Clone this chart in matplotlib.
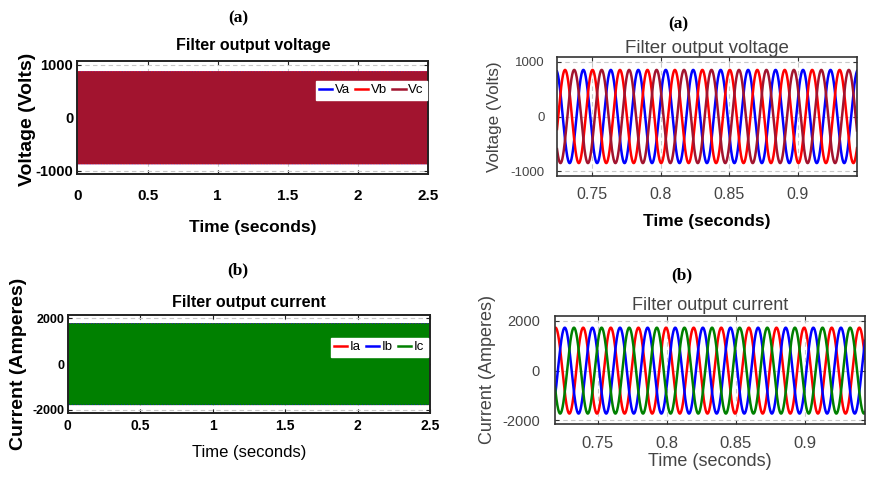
import numpy as np
import matplotlib
matplotlib.use("Agg")
import matplotlib.pyplot as plt

# waveform parameters
freq = 50.0                      # Hz
v_amp = 850.0                    # volts, peak
i_amp = 1730.0                   # amperes, peak
v_peak_a = 0.7437                # time of a Va peak (s)
i_peak_a = 0.7394                # time of an Ia peak (s)
phase_shift = [0.0, 1 / 3, 2 / 3]  # fraction of a period each phase lags phase a

v_names = ["Va", "Vb", "Vc"]
v_colors = ["#0000ff", "#ff0000", "#a2142f"]
i_names = ["Ia", "Ib", "Ic"]
i_colors = ["#ff0000", "#0000ff", "#008000"]

full_span = [0.0, 2.5]
v_zoom = [0.7245, 0.943]
i_zoom = [0.719, 0.9435]

v_ticks = [-1000, 0, 1000]
i_ticks = [-2000, 0, 2000]
full_xticks = [0, 0.5, 1, 1.5, 2, 2.5]
full_xlabels = ["0", "0.5", "1", "1.5", "2", "2.5"]
zoom_xticks = [0.75, 0.8, 0.85, 0.9]
zoom_xlabels = ["0.75", "0.8", "0.85", "0.9"]

plt.rcParams["axes.unicode_minus"] = False

W, H = 874, 478
SANS = ["Liberation Sans", "DejaVu Sans"]
SERIF = ["Liberation Serif", "DejaVu Serif"]
GREY = "#444444"


def rect(x0, y0, x1, y1):
    return [x0 / W, 1 - y1 / H, (x1 - x0) / W, (y1 - y0) / H]


def phase_wave(t, amp, t_peak, k):
    return amp * np.cos(2 * np.pi * freq * (t - t_peak) - 2 * np.pi * phase_shift[k])


def style_axes(ax, lw, color):
    ax.tick_params(direction="in", top=True, right=True, length=3, width=0.8,
                   color=color)
    for s in ax.spines.values():
        s.set_linewidth(lw)
        s.set_color(color)
    ax.grid(True, color="#c8c8c8", linestyle=(0, (4, 3)), linewidth=0.8)
    ax.set_axisbelow(True)


def set_ticklabels(labels, size, weight="normal", color="black"):
    for lab in labels:
        lab.set_fontfamily(SANS)
        lab.set_fontweight(weight)
        lab.set_fontsize(size)
        lab.set_color(color)


def add_legend(ax, anchor):
    leg = ax.legend(loc="upper right", bbox_to_anchor=anchor, ncol=3, frameon=True,
                    prop={"family": SANS, "size": 9.5}, handlelength=1.0,
                    handletextpad=0.2, columnspacing=0.4, borderpad=0.25,
                    fancybox=False, framealpha=1, borderaxespad=0.1)
    leg.get_frame().set_edgecolor("white")
    for h in leg.get_lines():
        h.set_linewidth(1.8)


fig = plt.figure(figsize=(W / 100, H / 100), dpi=100)

t_full = np.linspace(full_span[0], full_span[1], 40001)

# ---- (a) left: full voltage
ax = fig.add_axes(rect(77.3, 61, 428.3, 174))
for k in range(3):
    ax.plot(t_full, phase_wave(t_full, v_amp, v_peak_a, k), color=v_colors[k],
            lw=2.2, label=v_names[k])
ax.set_xlim(full_span)
ax.set_ylim(-1060, 1070)
ax.set_xticks(full_xticks)
ax.set_xticklabels(full_xlabels)
ax.set_yticks(v_ticks)
style_axes(ax, 1.4, "#222222")
ax.tick_params(axis="x", pad=11)
ax.tick_params(axis="y", pad=3)
set_ticklabels(ax.get_xticklabels(), 11, "bold")
set_ticklabels(ax.get_yticklabels(), 10.5, "bold")
ax.set_title("Filter output voltage", family=SANS, weight="bold", fontsize=11.5, pad=8)
ax.set_xlabel("Time (seconds)", family=SANS, weight="bold", fontsize=12.5, labelpad=12)
ax.set_ylabel("Voltage (Volts)", family=SANS, weight="bold", fontsize=14)
ax.yaxis.set_label_coords((27 - 77.3) / 351, 0.48)
ax.yaxis.label.set_va("center")
add_legend(ax, (1.0, 0.835))

# ---- (a) right: zoomed voltage
t_v = np.linspace(v_zoom[0], v_zoom[1], 4000)
ax = fig.add_axes(rect(557, 57.3, 857, 175.7))
for k in range(3):
    ax.plot(t_v, phase_wave(t_v, v_amp, v_peak_a, k), color=v_colors[k], lw=1.8)
ax.set_xlim(v_zoom)
ax.set_ylim(-1080, 1080)
ax.set_xticks(zoom_xticks)
ax.set_xticklabels(zoom_xlabels)
ax.set_yticks(v_ticks)
style_axes(ax, 1.2, "#333333")
ax.tick_params(axis="x", pad=8)
ax.tick_params(axis="y", pad=9)
set_ticklabels(ax.get_xticklabels(), 11.5, color=GREY)
set_ticklabels(ax.get_yticklabels(), 9.5, color=GREY)
ax.set_title("Filter output voltage", family=SANS, fontsize=13.5, color=GREY, pad=3)
ax.set_xlabel("Time (seconds)", family=SANS, weight="bold", fontsize=12.5, labelpad=9)
ax.set_ylabel("Voltage (Volts)", family=SANS, fontsize=12.3, color=GREY)
ax.yaxis.set_label_coords((495 - 557) / 300, 0.5)
ax.yaxis.label.set_va("center")

# ---- (b) left: full current
ax = fig.add_axes(rect(67.5, 315, 430, 413.3))
for k in range(3):
    ax.plot(t_full, phase_wave(t_full, i_amp, i_peak_a, k), color=i_colors[k],
            lw=2.2, label=i_names[k])
ax.set_xlim(full_span)
ax.set_ylim(-2150, 2150)
ax.set_xticks(full_xticks)
ax.set_xticklabels(full_xlabels)
ax.set_yticks(i_ticks)
style_axes(ax, 1.4, "#222222")
ax.tick_params(axis="x", pad=4)
ax.tick_params(axis="y", pad=2)
set_ticklabels(ax.get_xticklabels(), 10, "bold")
set_ticklabels(ax.get_yticklabels(), 9, "bold")
ax.set_title("Filter output current", family=SANS, weight="bold", fontsize=11.5, pad=6)
ax.set_xlabel("Time (seconds)", family=SANS, fontsize=12, labelpad=9)
ax.set_ylabel("Current (Amperes)", family=SANS, weight="bold", fontsize=14)
ax.yaxis.set_label_coords((19 - 67.5) / 362.5, 0.5)
ax.yaxis.label.set_va("center")
add_legend(ax, (0.997, 0.78))

# ---- (b) right: zoomed current
t_i = np.linspace(i_zoom[0], i_zoom[1], 4000)
ax = fig.add_axes(rect(555, 316, 865, 424))
for k in range(3):
    ax.plot(t_i, phase_wave(t_i, i_amp, i_peak_a, k), color=i_colors[k], lw=1.8)
ax.set_xlim(i_zoom)
ax.set_ylim(-2150, 2200)
ax.set_xticks(zoom_xticks)
ax.set_xticklabels(zoom_xlabels)
ax.set_yticks(i_ticks)
style_axes(ax, 1.2, "#333333")
ax.tick_params(axis="x", pad=9)
ax.tick_params(axis="y", pad=11)
set_ticklabels(ax.get_xticklabels(), 12, color=GREY)
set_ticklabels(ax.get_yticklabels(), 10.5, color=GREY)
ax.set_title("Filter output current", family=SANS, fontsize=13, color=GREY, pad=4)
ax.set_xlabel("Time (seconds)", family=SANS, fontsize=13, color=GREY, labelpad=1)
ax.set_ylabel("Current (Amperes)", family=SANS, fontsize=13, color=GREY)
ax.yaxis.set_label_coords((488 - 555) / 310, 0.5)
ax.yaxis.label.set_va("center")

# panel letters
for (x, y, s) in [(238, 18, "(a)"), (678, 24, "(a)"), (238, 270, "(b)"), (682, 275, "(b)")]:
    fig.text(x / W, 1 - y / H, s, family=SERIF, weight="bold", fontsize=12.5,
             ha="center", va="center")

fig.savefig("out.png", dpi=100)
